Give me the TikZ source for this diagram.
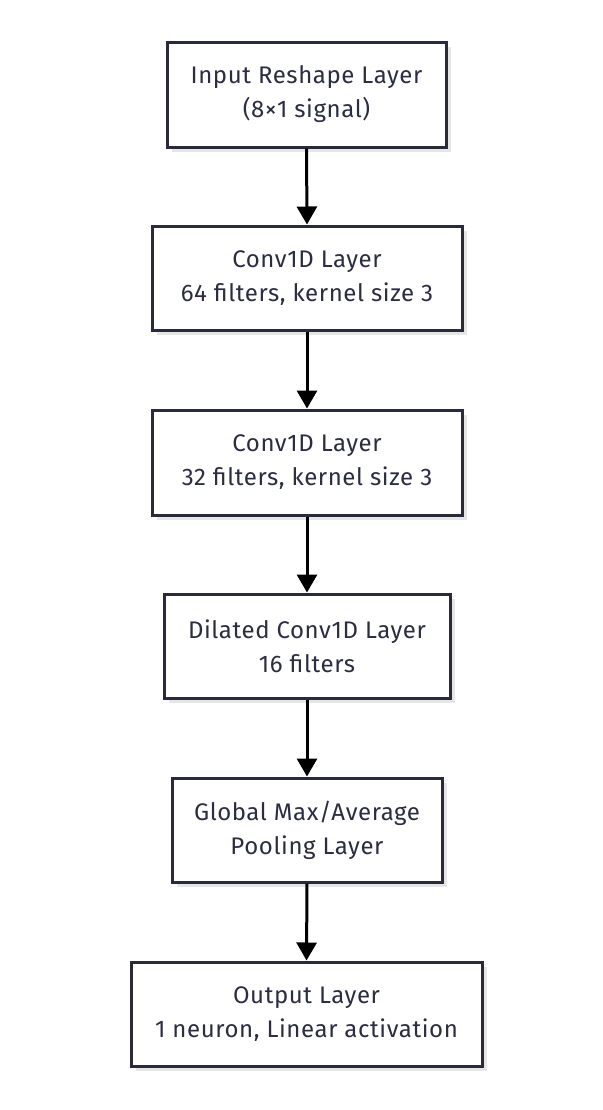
\documentclass[tikz,border=0pt]{standalone}
\usepackage{fontspec}
\setmainfont{Fira Sans}[LetterSpace=2.5]
\usetikzlibrary{arrows.meta, shadows}
\definecolor{boxline}{RGB}{42,42,58}
\definecolor{boxtext}{RGB}{44,44,66}
\definecolor{shadowgray}{RGB}{230,230,230}

\tikzset{
    layer/.style={draw=boxline, line width=1.5pt, fill=white, align=center,
        text=boxtext, font=\fontsize{12}{17}\selectfont, inner sep=0pt,
        drop shadow={shadow xshift=2.5pt, shadow yshift=-2.5pt, fill=shadowgray, opacity=1}},
    flow/.style={line width=1.5pt, -{Triangle[width=10pt, length=9pt]}}
}

\begin{document}
\begin{tikzpicture}[x=0.5pt, y=-0.5pt]
    % Page frame
    \useasboundingbox (0,0) rectangle (602,1110);

    % Layers
    \node[layer, minimum width=139.5pt, minimum height=52.5pt] (reshape) at (306.5,94.5) {Input Reshape Layer\\(8×1 signal)};
    \node[layer, minimum width=155pt, minimum height=52pt] (convA) at (307,278) {Conv1D Layer\\64 filters, kernel size 3};
    \node[layer, minimum width=155pt, minimum height=52.5pt] (convB) at (307,462.5) {Conv1D Layer\\32 filters, kernel size 3};
    \node[layer, minimum width=143pt, minimum height=52pt] (dilated) at (307,646) {Dilated Conv1D Layer\\16 filters};
    \node[layer, minimum width=135pt, minimum height=52pt] (pooling) at (307,830) {Global Max/Average\\Pooling Layer};
    \node[layer, minimum width=175.5pt, minimum height=52pt] (output) at (306.5,1014) {Output Layer\\1 neuron, Linear activation};

    % Connectors
    \draw[flow] (reshape.south) -- (convA.north);
    \draw[flow] (convA.south) -- (convB.north);
    \draw[flow] (convB.south) -- (dilated.north);
    \draw[flow] (dilated.south) -- (pooling.north);
    \draw[flow] (pooling.south) -- (output.north);
\end{tikzpicture}
\end{document}
